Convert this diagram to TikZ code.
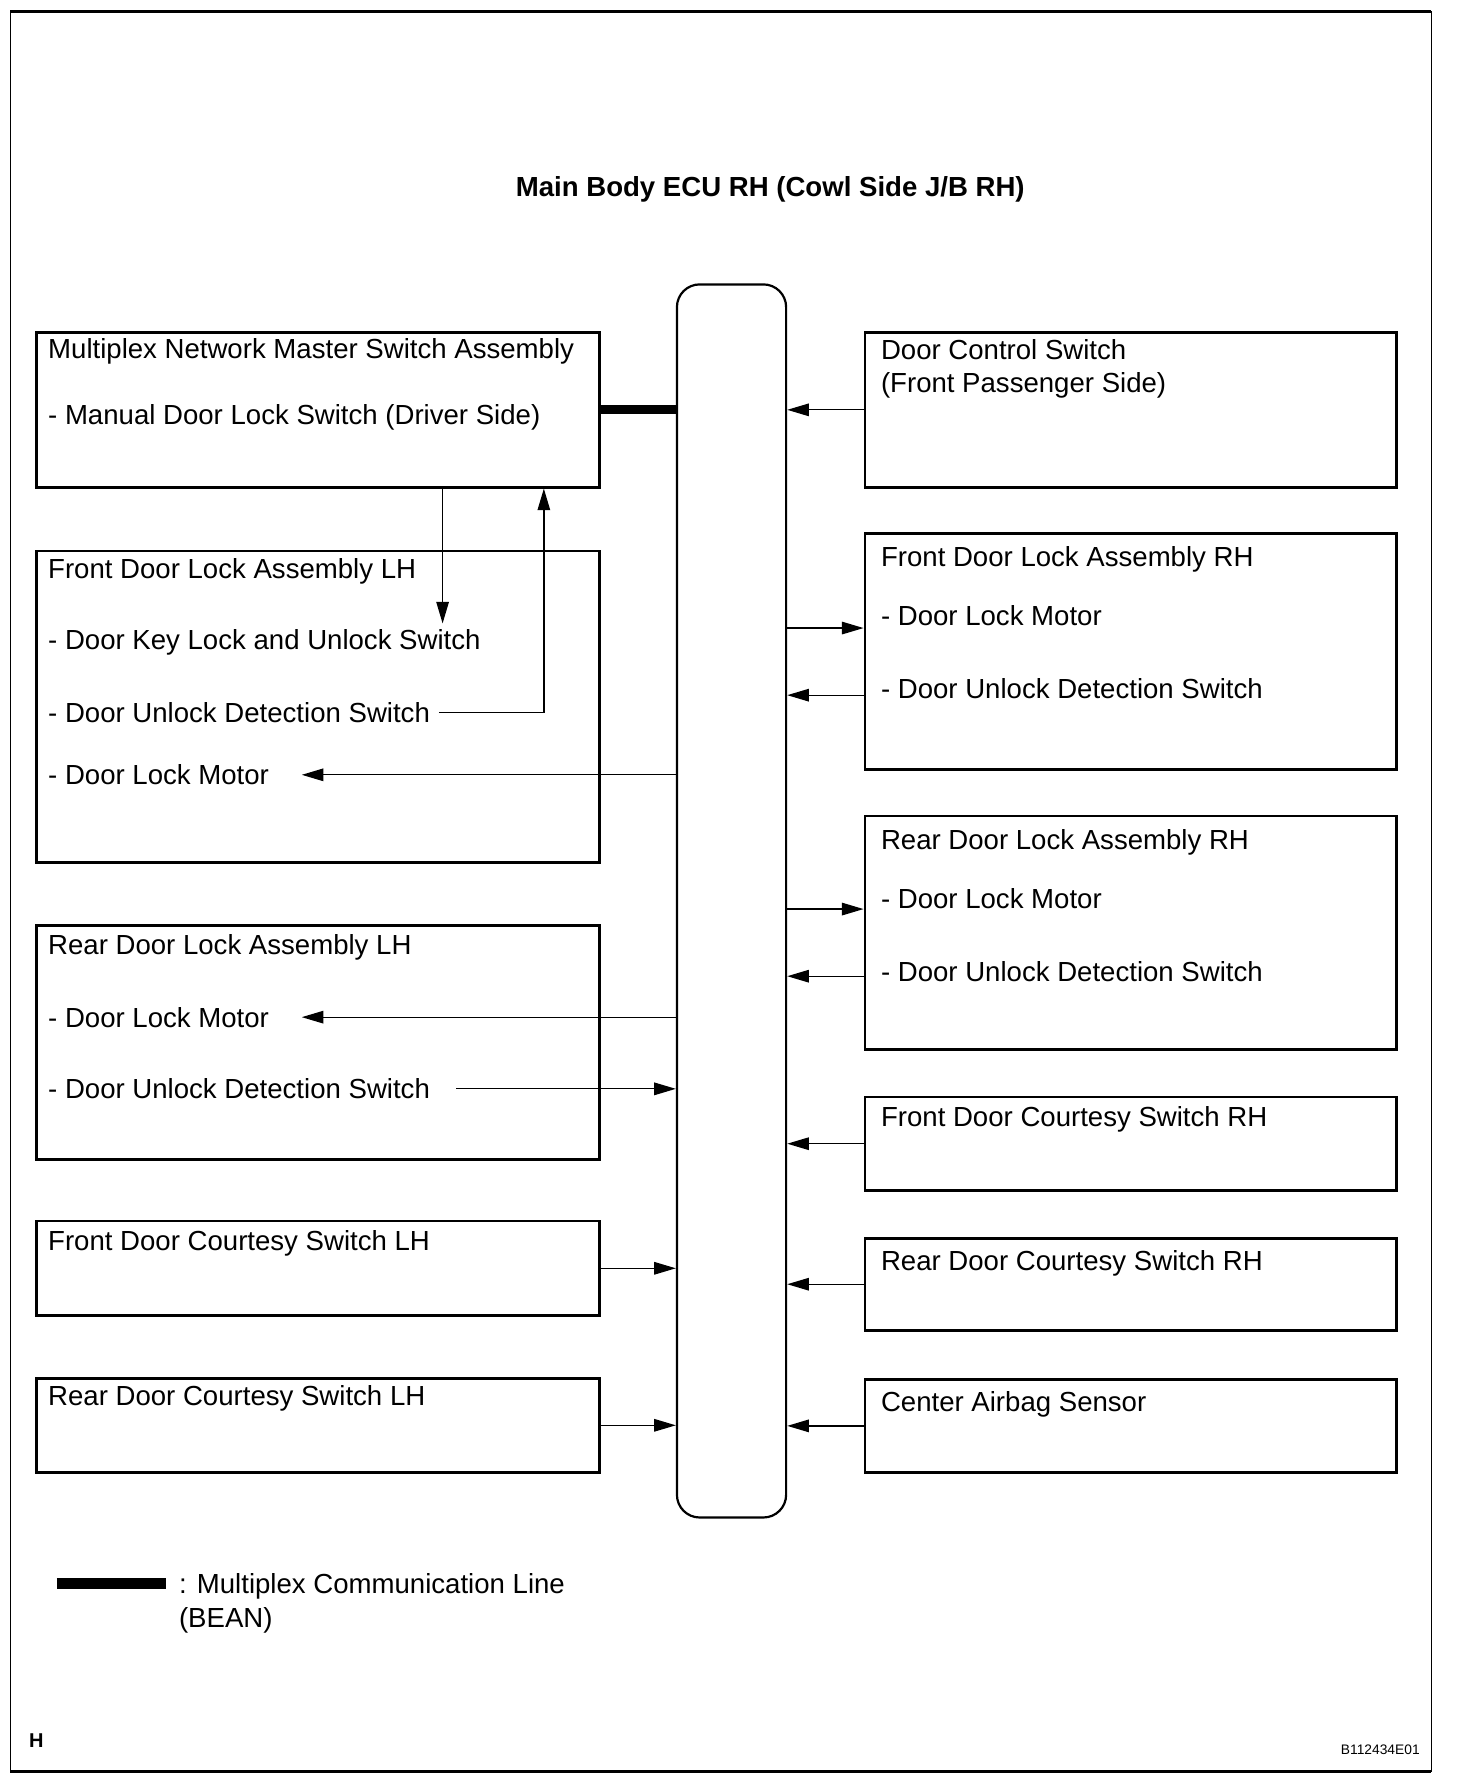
\documentclass[tikz,border=0pt]{standalone}
\usepackage{fontspec}
\setmainfont{Liberation Sans}
\usepackage{tikz}
\usetikzlibrary{arrows.meta,positioning}

\begin{document}
\begin{tikzpicture}[x=0.02cm,y=-0.02cm,
          >={Triangle[length=0.38cm,width=0.22cm]},
          box/.style={draw,line width=1.4pt,anchor=north west,inner sep=0,
                      minimum width=9.9cm},
          rbox/.style={box,minimum width=9.34cm},
          txt/.style={anchor=west,inner sep=0,text height=9.9pt,text depth=0pt,
                      font=\fontsize{13.8}{16}\selectfont},
          link/.style={->,line width=0.65pt},
          bean/.style={line width=4.6pt}]
        \useasboundingbox (0,0) rectangle (1294,1568);
        % frame
        \draw[line width=0.7pt] (9,10) rectangle (1258,1557);
        \draw[line width=1.5pt] (9,10) -- (1258,10) (9,1557) -- (1258,1557);
        \node[font=\bfseries\fontsize{13.8}{16}\selectfont] (title) at (677,166)
          {Main Body ECU RH (Cowl Side J/B RH)};
        \node[draw,line width=1.1pt,rounded corners=0.4cm,anchor=north west,inner sep=0,
              minimum width=1.92cm,minimum height=21.68cm] (ecu) at (594,249) {};
        % left side
        \node[box,minimum height=2.72cm] (msw) at (31,291) {};
        \node[box,minimum height=5.48cm] (fdl) at (31,483) {};
        \node[box,minimum height=4.12cm] (rdl) at (31,812) {};
        \node[box,minimum height=1.66cm] (fcl) at (31,1072) {};
        \node[box,minimum height=1.66cm] (rcl) at (31,1210) {};
        \node[txt] (msw1) at (42,306) {Multiplex Network Master Switch Assembly};
        \node[txt] (msw2) at (42,364) {- Manual Door Lock Switch (Driver Side)};
        \node[txt] (fdl1) at (42,500) {Front Door Lock Assembly LH};
        \node[txt] (fdlkey) at (42,562) {- Door Key Lock and Unlock Switch};
        \node[txt] (fdlunl) at (42,626) {- Door Unlock Detection Switch};
        \node[txt] (fdlmot) at (42,681) {- Door Lock Motor};
        \node[txt] (rdl1) at (42,830) {Rear Door Lock Assembly LH};
        \node[txt] (rdlmot) at (42,894) {- Door Lock Motor};
        \node[txt] (rdlunl) at (42,957) {- Door Unlock Detection Switch};
        \node[txt] (fcl1) at (42,1090) {Front Door Courtesy Switch LH};
        \node[txt] (rcl1) at (42,1227) {Rear Door Courtesy Switch LH};
        % right side
        \node[rbox,minimum height=2.72cm] (dcs) at (759,291) {};
        \node[rbox,minimum height=4.14cm] (fdr) at (759,468) {};
        \node[rbox,minimum height=4.10cm] (rdr) at (759,716) {};
        \node[rbox,minimum height=1.64cm] (fcr) at (759,963) {};
        \node[rbox,minimum height=1.62cm] (rcr) at (759,1087) {};
        \node[rbox,minimum height=1.64cm] (cas) at (759,1211) {};
        \node[txt] (dcs1) at (774,307) {Door Control Switch};
        \node[txt] (dcs2) at (774,336) {(Front Passenger Side)};
        \node[txt] (fdr1) at (774,489) {Front Door Lock Assembly RH};
        \node[txt] (fdrmot) at (774,541) {- Door Lock Motor};
        \node[txt] (fdrunl) at (774,605) {- Door Unlock Detection Switch};
        \node[txt] (rdr1) at (774,738) {Rear Door Lock Assembly RH};
        \node[txt] (rdrmot) at (774,790) {- Door Lock Motor};
        \node[txt] (rdrunl) at (774,854) {- Door Unlock Detection Switch};
        \node[txt] (fcr1) at (774,981) {Front Door Courtesy Switch RH};
        \node[txt] (rcr1) at (774,1108) {Rear Door Courtesy Switch RH};
        \node[txt] (cas1) at (774,1232) {Center Airbag Sensor};
        % connections
        \draw[bean] (msw.east) -- (msw.east -| ecu.west);
        \draw[link] (dcs.west) -- (dcs.west -| ecu.east);
        \coordinate (keyx) at (389,0);
        \coordinate (unlx) at (478,0);
        \draw[link,shorten >=0.1cm] (msw.south -| keyx) -- (keyx |- fdlkey.north);
        \draw[link] ([xshift=0.15cm]fdlunl.east) -| (msw.south -| unlx);
        \draw[link] (fdlmot.east -| ecu.west) -- ([xshift=0.57cm]fdlmot.east);
        \draw[link] (rdlmot.east -| ecu.west) -- ([xshift=0.57cm]rdlmot.east);
        \draw[link] ([xshift=0.46cm]rdlunl.east) -- (rdlunl.east -| ecu.west);
        \draw[link] (fcl.east) -- (fcl.east -| ecu.west);
        \draw[link] (rcl.east) -- (rcl.east -| ecu.west);
        \draw[link] ([yshift=-0.22cm]fdrmot.west -| ecu.east) -- ([yshift=-0.22cm]fdrmot.west -| fdr.west);
        \draw[link] ([yshift=-0.12cm]fdrunl.west -| fdr.west) -- ([yshift=-0.12cm]fdrunl.west -| ecu.east);
        \draw[link] ([yshift=-0.18cm]rdrmot.west -| ecu.east) -- ([yshift=-0.18cm]rdrmot.west -| rdr.west);
        \draw[link] ([yshift=-0.08cm]rdrunl.west -| rdr.west) -- ([yshift=-0.08cm]rdrunl.west -| ecu.east);
        \draw[link] (fcr.west) -- (fcr.west -| ecu.east);
        \draw[link] (rcr.west) -- (rcr.west -| ecu.east);
        \draw[link] (cas.west) -- (cas.west -| ecu.east);
        % legend
        \node[txt] (lgtxt) at (157,1392) {: Multiplex Communication Line};
        \node[txt] (lgbean) at (157,1422) {(BEAN)};
        \coordinate (lgbar) at (50,1392);
        \draw[line width=0.2cm] (lgbar) -- ([xshift=-0.22cm]lgtxt.west);
        \node[font=\bfseries\fontsize{10}{12}\selectfont] (hmark) at (32,1530) {H};
        \node[font=\fontsize{6.9}{8}\selectfont,anchor=east] (figid) at (1254,1538) {B112434E01};
      \end{tikzpicture}
\end{document}
